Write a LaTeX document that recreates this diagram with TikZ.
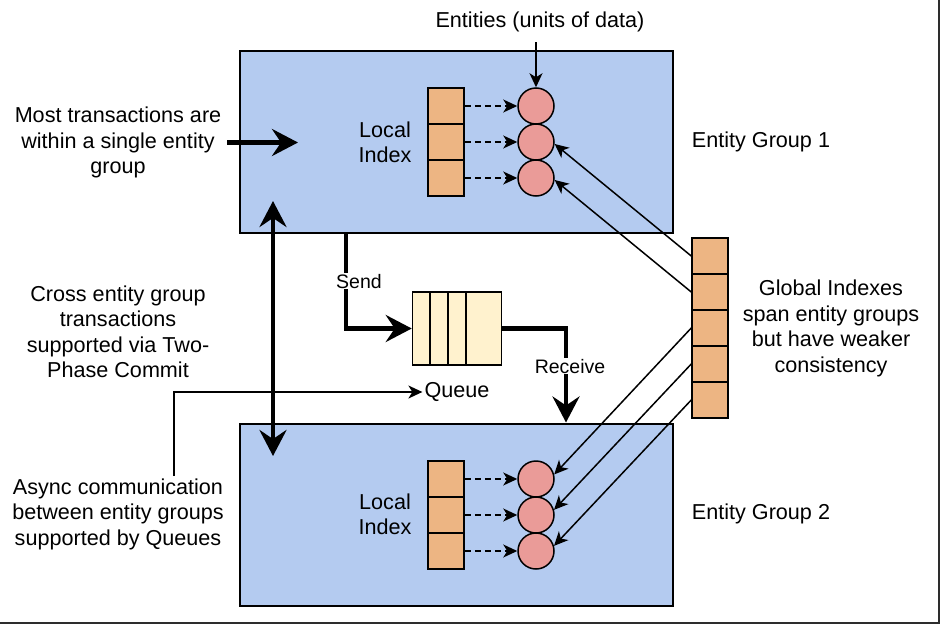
\documentclass[tikz,border=0pt]{standalone}
\usepackage{fontspec}
\setmainfont{Liberation Sans}
\usetikzlibrary{calc,arrows.meta}
\definecolor{groupblue}{RGB}{180,203,240}
\definecolor{cellorange}{RGB}{237,181,131}
\definecolor{entitypink}{RGB}{234,155,152}
\definecolor{queueyellow}{RGB}{255,242,206}
\definecolor{framegray}{RGB}{45,45,45}

\begin{document}
\begin{tikzpicture}[x=1pt,y=-1pt,
        every node/.style={font={\fontsize{21.6}{25.5}\selectfont},inner sep=2pt},
        group/.style={draw,line width=2pt,fill=groupblue,minimum width=433pt,minimum height=182pt},
        lcell/.style={draw,line width=1.5pt,fill=cellorange,minimum size=36pt,inner sep=0pt},
        gcell/.style={lcell},
        entity/.style={circle,draw,line width=1.5pt,fill=entitypink,minimum size=36pt,inner sep=0pt},
        queue/.style={draw,line width=1.5pt,fill=queueyellow,minimum width=89pt,minimum height=73pt,inner sep=0pt},
        note/.style={align=center},
        flowlbl/.style={fill=white,inner sep=1pt,font={\fontsize{19.5}{23}\selectfont}},
        thinarrow/.style={line width=1.5pt,-{Stealth[length=14pt,width=13pt,inset=4pt]}},
        thickarrow/.style={line width=4.5pt,-{Stealth[length=26pt,width=27pt,inset=9pt]}},
        bothways/.style={line width=4.5pt,{Stealth[length=26pt,width=27pt,inset=9pt]}-{Stealth[length=26pt,width=27pt,inset=9pt]}}]
    \useasboundingbox (0,0) rectangle (940,624);

    % entity groups
    \node[group] (grpA) at (456.5,142) {};
    \node[group] (grpB) at (456.5,514.5) {};

    % local indexes and entities
    \foreach \g/\y in {A/70,B/443} {
        \foreach \i in {1,2,3} {
            \node[lcell] (cell\g\i) at (446,{\y+36*\i}) {};
            \node[entity] (ent\g\i) at (536,{\y+36*\i}) {};
            \draw[thinarrow,dash pattern=on 6pt off 4pt] (cell\g\i) -- (ent\g\i);
        }
    }
    \node[note] (lidxA) at (385,142.5) {Local\\Index};
    \node[note] (lidxB) at (385,514.5) {Local\\Index};

    \node (grpAlbl) at (761,142) {Entity Group 1};
    \node (grpBlbl) at (761,514) {Entity Group 2};

    \node (entlbl) at (540,22) {Entities (units of data)};
    \draw[thinarrow,shorten <=8pt] (entlbl.south -| entA1.north) -- (entA1.north);

    % global index
    \foreach \i in {1,...,5}
        \node[gcell] (gidx\i) at (710,{220+36*\i}) {};
    \node[note] (gidxlbl) at (831,328.5) {Global Indexes\\span entity groups\\but have weaker\\consistency};

    \draw[thinarrow] (gidx1.west) -- (entA2.-6);
    \draw[thinarrow] (gidx2.west) -- (entA3.-6);
    \draw[thinarrow] (gidx3.west) -- (entB1.14);
    \draw[thinarrow] (gidx4.west) -- (entB2.16);
    \draw[thinarrow] (gidx5.west) -- (entB3.16);

    % queue
    \node[queue] (queue) at (457,328.5) {};
    \foreach \f in {0.2,0.4,0.6}
        \draw[line width=1.5pt] ($(queue.north west)!\f!(queue.north east)$) -- ($(queue.south west)!\f!(queue.south east)$);
    \node (queuelbl) at (457,392) {Queue};

    \draw[thickarrow] ($(grpA.south west)+(107,0)$) |- (queue.west)
        node[flowlbl,pos=0.25,xshift=13pt] (sendlbl) {Send};
    \draw[thickarrow] (queue.east) -| ($(grpB.north west)+(327,0)$)
        node[flowlbl,pos=0.70,xshift=4pt] (recvlbl) {Receive};

    % notes on the left
    \node[note] (mostlbl) at (118,142.5) {Most transactions are\\within a single entity\\group};
    \coordinate (mostend) at (298,142.5);
    \draw[thickarrow,shorten <=4pt] (mostlbl.east) -- (mostend);

    \node[note] (crosslbl) at (118,332) {Cross entity group\\transactions\\supported via Two-\\Phase Commit};
    \coordinate (tpcA) at (273,201);
    \coordinate (tpcB) at (273,456);
    \draw[bothways] (tpcA) -- (tpcB);

    \node[note] (asynclbl) at (118,514) {Async communication\\between entity groups\\supported by Queues};
    \coordinate (qbend) at (174,393);
    \draw[thinarrow] (asynclbl.north -| qbend) |- (queuelbl.west);

    % window edge
    \draw[framegray,line width=2.2pt] (0,623.2) -| (938.9,0);
\end{tikzpicture}
\end{document}
